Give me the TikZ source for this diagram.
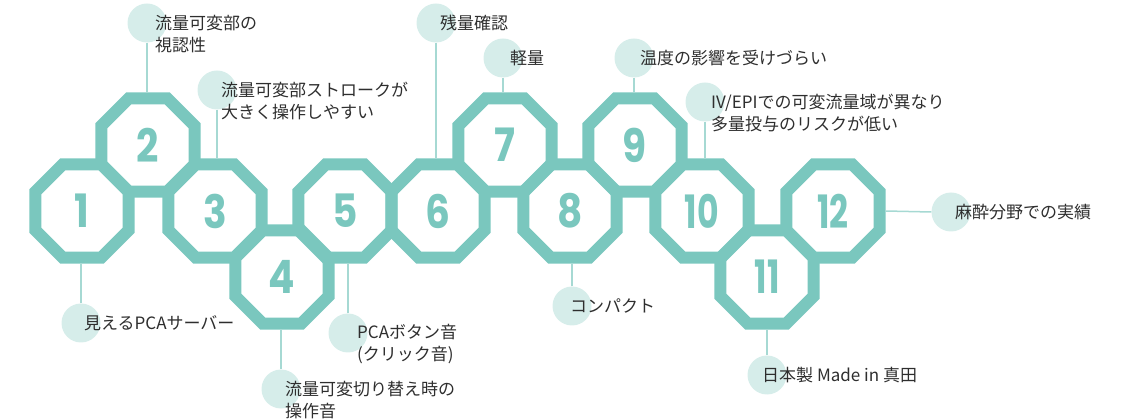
\documentclass[tikz,border=0pt]{standalone}
\usepackage{fontspec}
\newfontfamily\jpfont{Noto Sans CJK JP}
\newfontfamily\numfont{Poppins}
\usetikzlibrary{shapes.geometric, positioning}
\definecolor{octteal}{HTML}{7AC7BE}
\definecolor{dotteal}{HTML}{D6EDEA}
\definecolor{stemteal}{HTML}{A6D9D3}
\definecolor{labelgray}{HTML}{2E2E2E}
\tikzstyle{oct} = [regular polygon, regular polygon sides=8, minimum size=100.7pt, inner sep=0pt, draw=octteal, line width=12pt, text=octteal, font=\numfont\bfseries\fontsize{46}{46}\selectfont]
\tikzstyle{dot} = [circle, fill=dotteal, minimum size=39pt, inner sep=0pt]
\tikzstyle{feat} = [anchor=west, align=left, inner sep=0pt, text=labelgray, font=\jpfont\fontsize{17}{22}\selectfont]
\tikzstyle{stem} = [stemteal, line width=1.5pt]
\newcommand{\octnum}[1]{\scalebox{0.85}[1]{#1}}
\newcommand{\octnumw}[1]{\scalebox{0.72}[1]{#1}}

\begin{document}
\begin{tikzpicture}[x=1pt, y=-1pt]
		\useasboundingbox (0,0) rectangle (1124,419);
		
		% Dots
		\node[dot] (d1) at (81,323) {};
		\node[dot] (d2) at (147,23) {};
		\node[dot] (d3) at (217,90) {};
		\node[dot] (d4) at (281,389) {};
		\node[dot] (d5) at (348,333) {};
		\node[dot] (d6) at (436,23) {};
		\node[dot] (d7) at (503,58) {};
		\node[dot] (d8) at (572,306) {};
		\node[dot] (d9) at (634,58) {};
		\node[dot] (d10) at (705,102) {};
		\node[dot] (d11) at (767,375) {};
		\node[dot] (d12) at (951,212) {};
		
		% Octagons
		\node[oct] (o1) at (82,211) {\octnum{1}};
		\node[oct] (o2) at (148,145) {\octnum{2}};
		\node[oct] (o3) at (215,211) {\octnum{3}};
		\node[oct] (o4) at (282,277) {\octnum{4}};
		\node[oct] (o5) at (345,211) {\octnum{5}};
		\node[oct] (o6) at (438,211) {\octnum{6}};
		\node[oct] (o7) at (505,145) {\octnum{7}};
		\node[oct] (o8) at (570,211) {\octnum{8}};
		\node[oct] (o9) at (635,145) {\octnum{9}};
		\node[oct] (o10) at (702,211) {\octnumw{10}};
		\node[oct] (o11) at (767,277) {\octnumw{11}};
		\node[oct] (o12) at (833,211) {\octnumw{12}};
		
		% Stems
		\draw[stem] (d1.north) -- (d1.north |- o1.south);
		\draw[stem] (d2.south) -- (d2.south |- o2.north);
		\draw[stem] (d3.south) -- (d3.south |- o3.north);
		\draw[stem] (d4.north) -- (d4.north |- o4.south);
		\draw[stem] (d5.north) -- (d5.north |- o5.south);
		\draw[stem] (d6.south) -- (d6.south |- o6.north);
		\draw[stem] (d7.south) -- (d7.south |- o7.north);
		\draw[stem] (d8.north) -- (d8.north |- o8.south);
		\draw[stem] (d9.south) -- (d9.south |- o9.north);
		\draw[stem] (d10.south) -- (d10.south |- o10.north);
		\draw[stem] (d11.north) -- (d11.north |- o11.south);
		\draw[stem] (o12.east) -- (d12.west);
		
		% Labels
		\node[feat] (t1) at ([xshift=3pt]d1.center) {見えるPCAサーバー};
		\node[feat] (t2) at ([xshift=8pt, yshift=-11pt]d2.center) {流量可変部の\\視認性};
		\node[feat] (t3) at ([xshift=4pt, yshift=-11pt]d3.center) {流量可変部ストロークが\\大きく操作しやすい};
		\node[feat] (t4) at ([xshift=4pt, yshift=-11pt]d4.center) {流量可変切り替え時の\\操作音};
		\node[feat] (t5) at ([xshift=9pt, yshift=-11pt]d5.center) {PCAボタン音\\(クリック音)};
		\node[feat] (t6) at ([xshift=4pt]d6.center) {残量確認};
		\node[feat] (t7) at ([xshift=7pt]d7.center) {軽量};
		\node[feat] (t8) at ([xshift=-2pt]d8.center) {コンパクト};
		\node[feat] (t9) at ([xshift=6pt]d9.center) {温度の影響を受けづらい};
		\node[feat] (t10) at ([xshift=6pt, yshift=-11pt]d10.center) {IV/EPIでの可変流量域が異なり\\多量投与のリスクが低い};
		\node[feat] (t11) at ([xshift=-5pt]d11.center) {日本製 Made in 真田};
		\node[feat] (t12) at ([xshift=4pt]d12.center) {麻酔分野での実績};
\end{tikzpicture}
\end{document}
